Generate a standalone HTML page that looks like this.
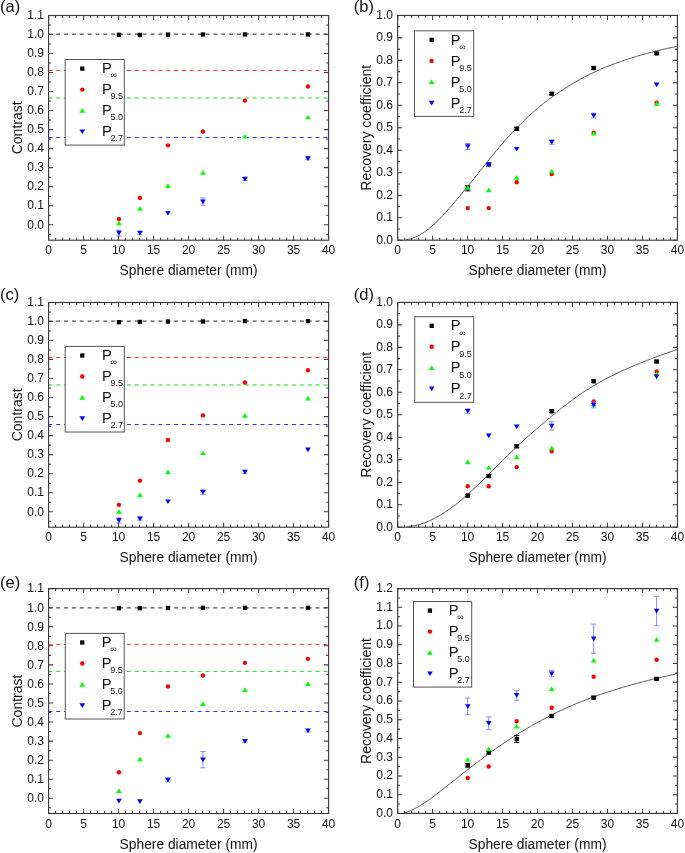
<!DOCTYPE html>
<html><head><meta charset="utf-8"><style>html,body{margin:0;padding:0;background:#fff;overflow:hidden}svg{display:block;will-change:transform}text{font-family:"Liberation Sans", sans-serif;fill:#111}</style></head>
<body><svg width="685" height="853" viewBox="0 0 685 853">
<rect width="685" height="853" fill="#fff"/>
<clipPath id="ca"><rect x="48.6" y="15.5" width="280.00" height="224.70"/></clipPath>
<line x1="48.6" y1="34.20" x2="328.6" y2="34.20" stroke="#505050" stroke-width="1.3" stroke-dasharray="4 3.86" stroke-dashoffset="0.30"/>
<line x1="48.6" y1="70.45" x2="328.6" y2="70.45" stroke="#ff3333" stroke-width="1.1" stroke-dasharray="4 3.86" stroke-dashoffset="0.30"/>
<line x1="48.6" y1="98.00" x2="328.6" y2="98.00" stroke="#55ee55" stroke-width="1.7" stroke-dasharray="4 3.86" stroke-dashoffset="0.30"/>
<line x1="48.6" y1="137.50" x2="328.6" y2="137.50" stroke="#3333ff" stroke-width="1.1" stroke-dasharray="4 3.86" stroke-dashoffset="0.30"/>
<rect x="116.80" y="32.65" width="4.3" height="4.3" fill="#000"/>
<rect x="137.80" y="32.75" width="4.3" height="4.3" fill="#000"/>
<rect x="165.80" y="32.45" width="4.3" height="4.3" fill="#000"/>
<rect x="200.80" y="32.35" width="4.3" height="4.3" fill="#000"/>
<rect x="242.80" y="32.25" width="4.3" height="4.3" fill="#000"/>
<rect x="305.80" y="32.25" width="4.3" height="4.3" fill="#000"/>
<circle cx="118.95" cy="218.98" r="2.2" fill="#f00"/>
<circle cx="139.95" cy="198.05" r="2.2" fill="#f00"/>
<circle cx="167.95" cy="145.34" r="2.2" fill="#f00"/>
<circle cx="202.95" cy="131.44" r="2.2" fill="#f00"/>
<circle cx="244.95" cy="100.61" r="2.2" fill="#f00"/>
<circle cx="307.95" cy="86.53" r="2.2" fill="#f00"/>
<path d="M118.95,220.67L121.80,225.37L116.10,225.37Z" fill="#0f0"/>
<path d="M139.95,206.01L142.80,210.71L137.10,210.71Z" fill="#0f0"/>
<path d="M167.95,183.18L170.80,187.88L165.10,187.88Z" fill="#0f0"/>
<path d="M202.95,170.05L205.80,174.75L200.10,174.75Z" fill="#0f0"/>
<path d="M244.95,133.89L247.80,138.59L242.10,138.59Z" fill="#0f0"/>
<path d="M307.95,114.67L310.80,119.37L305.10,119.37Z" fill="#0f0"/>
<path d="M118.95,230.06V236.06M116.35,230.06h5.2M116.35,236.06h5.2" stroke="#7c7cff" stroke-width="0.9" fill="none"/>
<path d="M118.95,235.56L121.80,230.86L116.10,230.86Z" fill="#00f"/>
<path d="M139.95,231.76V234.36M137.35,231.76h5.2M137.35,234.36h5.2" stroke="#7c7cff" stroke-width="0.9" fill="none"/>
<path d="M139.95,235.56L142.80,230.86L137.10,230.86Z" fill="#00f"/>
<path d="M167.95,215.58L170.80,210.88L165.10,210.88Z" fill="#00f"/>
<path d="M202.95,198.06V205.26M200.35,198.06h5.2M200.35,205.26h5.2" stroke="#7c7cff" stroke-width="0.9" fill="none"/>
<path d="M202.95,204.16L205.80,199.46L200.10,199.46Z" fill="#00f"/>
<path d="M244.95,177.52V180.52M242.35,177.52h5.2M242.35,180.52h5.2" stroke="#7c7cff" stroke-width="0.9" fill="none"/>
<path d="M244.95,181.52L247.80,176.82L242.10,176.82Z" fill="#00f"/>
<path d="M307.95,157.17V159.77M305.35,157.17h5.2M305.35,159.77h5.2" stroke="#7c7cff" stroke-width="0.9" fill="none"/>
<path d="M307.95,160.97L310.80,156.27L305.10,156.27Z" fill="#00f"/>
<rect x="48.6" y="15.5" width="280.00" height="224.70" fill="none" stroke="#3c3c3c" stroke-width="1.15"/>
<path d="M48.60,240.2v-4.5M48.60,15.5v4.5M55.60,240.2v-2.4M55.60,15.5v2.4M62.60,240.2v-2.4M62.60,15.5v2.4M69.60,240.2v-2.4M69.60,15.5v2.4M76.60,240.2v-2.4M76.60,15.5v2.4M83.60,240.2v-4.5M83.60,15.5v4.5M90.60,240.2v-2.4M90.60,15.5v2.4M97.60,240.2v-2.4M97.60,15.5v2.4M104.60,240.2v-2.4M104.60,15.5v2.4M111.60,240.2v-2.4M111.60,15.5v2.4M118.60,240.2v-4.5M118.60,15.5v4.5M125.60,240.2v-2.4M125.60,15.5v2.4M132.60,240.2v-2.4M132.60,15.5v2.4M139.60,240.2v-2.4M139.60,15.5v2.4M146.60,240.2v-2.4M146.60,15.5v2.4M153.60,240.2v-4.5M153.60,15.5v4.5M160.60,240.2v-2.4M160.60,15.5v2.4M167.60,240.2v-2.4M167.60,15.5v2.4M174.60,240.2v-2.4M174.60,15.5v2.4M181.60,240.2v-2.4M181.60,15.5v2.4M188.60,240.2v-4.5M188.60,15.5v4.5M195.60,240.2v-2.4M195.60,15.5v2.4M202.60,240.2v-2.4M202.60,15.5v2.4M209.60,240.2v-2.4M209.60,15.5v2.4M216.60,240.2v-2.4M216.60,15.5v2.4M223.60,240.2v-4.5M223.60,15.5v4.5M230.60,240.2v-2.4M230.60,15.5v2.4M237.60,240.2v-2.4M237.60,15.5v2.4M244.60,240.2v-2.4M244.60,15.5v2.4M251.60,240.2v-2.4M251.60,15.5v2.4M258.60,240.2v-4.5M258.60,15.5v4.5M265.60,240.2v-2.4M265.60,15.5v2.4M272.60,240.2v-2.4M272.60,15.5v2.4M279.60,240.2v-2.4M279.60,15.5v2.4M286.60,240.2v-2.4M286.60,15.5v2.4M293.60,240.2v-4.5M293.60,15.5v4.5M300.60,240.2v-2.4M300.60,15.5v2.4M307.60,240.2v-2.4M307.60,15.5v2.4M314.60,240.2v-2.4M314.60,15.5v2.4M321.60,240.2v-2.4M321.60,15.5v2.4M328.60,240.2v-4.5M328.60,15.5v4.5M48.6,234.21h2.4M328.6,234.21h-2.4M48.6,224.70h4.5M328.6,224.70h-4.5M48.6,215.19h2.4M328.6,215.19h-2.4M48.6,205.68h4.5M328.6,205.68h-4.5M48.6,196.17h2.4M328.6,196.17h-2.4M48.6,186.66h4.5M328.6,186.66h-4.5M48.6,177.15h2.4M328.6,177.15h-2.4M48.6,167.64h4.5M328.6,167.64h-4.5M48.6,158.13h2.4M328.6,158.13h-2.4M48.6,148.62h4.5M328.6,148.62h-4.5M48.6,139.11h2.4M328.6,139.11h-2.4M48.6,129.60h4.5M328.6,129.60h-4.5M48.6,120.09h2.4M328.6,120.09h-2.4M48.6,110.58h4.5M328.6,110.58h-4.5M48.6,101.07h2.4M328.6,101.07h-2.4M48.6,91.56h4.5M328.6,91.56h-4.5M48.6,82.05h2.4M328.6,82.05h-2.4M48.6,72.54h4.5M328.6,72.54h-4.5M48.6,63.03h2.4M328.6,63.03h-2.4M48.6,53.52h4.5M328.6,53.52h-4.5M48.6,44.01h2.4M328.6,44.01h-2.4M48.6,34.50h4.5M328.6,34.50h-4.5M48.6,24.99h2.4M328.6,24.99h-2.4M48.6,15.48h4.5M328.6,15.48h-4.5" stroke="#3c3c3c" stroke-width="1.05" fill="none"/>
<text x="48.60" y="253.90" text-anchor="middle" font-size="12">0</text>
<text x="83.60" y="253.90" text-anchor="middle" font-size="12">5</text>
<text x="118.60" y="253.90" text-anchor="middle" font-size="12">10</text>
<text x="153.60" y="253.90" text-anchor="middle" font-size="12">15</text>
<text x="188.60" y="253.90" text-anchor="middle" font-size="12">20</text>
<text x="223.60" y="253.90" text-anchor="middle" font-size="12">25</text>
<text x="258.60" y="253.90" text-anchor="middle" font-size="12">30</text>
<text x="293.60" y="253.90" text-anchor="middle" font-size="12">35</text>
<text x="328.60" y="253.90" text-anchor="middle" font-size="12">40</text>
<text x="44.00" y="228.50" text-anchor="end" font-size="12">0.0</text>
<text x="44.00" y="209.48" text-anchor="end" font-size="12">0.1</text>
<text x="44.00" y="190.46" text-anchor="end" font-size="12">0.2</text>
<text x="44.00" y="171.44" text-anchor="end" font-size="12">0.3</text>
<text x="44.00" y="152.42" text-anchor="end" font-size="12">0.4</text>
<text x="44.00" y="133.40" text-anchor="end" font-size="12">0.5</text>
<text x="44.00" y="114.38" text-anchor="end" font-size="12">0.6</text>
<text x="44.00" y="95.36" text-anchor="end" font-size="12">0.7</text>
<text x="44.00" y="76.34" text-anchor="end" font-size="12">0.8</text>
<text x="44.00" y="57.32" text-anchor="end" font-size="12">0.9</text>
<text x="44.00" y="38.30" text-anchor="end" font-size="12">1.0</text>
<text x="44.00" y="19.28" text-anchor="end" font-size="12">1.1</text>
<text x="188.60" y="274.90" text-anchor="middle" font-size="13.8">Sphere diameter (mm)</text>
<text transform="translate(22.20,127.85) rotate(-90)" text-anchor="middle" font-size="14">Contrast</text>
<text x="0.00" y="12.35" font-size="16.5">(a)</text>
<rect x="65.2" y="59.5" width="59.1" height="85.6" fill="#fff" stroke="#555" stroke-width="1"/>
<rect x="80.15" y="66.45" width="4.3" height="4.3" fill="#000"/>
<text x="101.95" y="73.20" font-size="14.7">P</text>
<text x="110.40" y="78.30" font-size="9" fill="#777">&#8734;</text>
<circle cx="82.30" cy="89.60" r="2.2" fill="#f00"/>
<text x="101.95" y="94.20" font-size="14.7">P</text>
<text x="110.40" y="99.30" font-size="9">9.5</text>
<path d="M82.30,108.10L85.15,112.80L79.45,112.80Z" fill="#0f0"/>
<text x="101.95" y="115.20" font-size="14.7">P</text>
<text x="110.40" y="120.30" font-size="9">5.0</text>
<path d="M82.30,134.10L85.15,129.40L79.45,129.40Z" fill="#00f"/>
<text x="101.95" y="136.20" font-size="14.7">P</text>
<text x="110.40" y="141.30" font-size="9">2.7</text>
<clipPath id="cc"><rect x="48.6" y="302.5" width="280.00" height="224.70"/></clipPath>
<line x1="48.6" y1="321.20" x2="328.6" y2="321.20" stroke="#505050" stroke-width="1.3" stroke-dasharray="4 3.86" stroke-dashoffset="0.30"/>
<line x1="48.6" y1="357.45" x2="328.6" y2="357.45" stroke="#ff3333" stroke-width="1.1" stroke-dasharray="4 3.86" stroke-dashoffset="0.30"/>
<line x1="48.6" y1="385.00" x2="328.6" y2="385.00" stroke="#55ee55" stroke-width="1.7" stroke-dasharray="4 3.86" stroke-dashoffset="0.30"/>
<line x1="48.6" y1="424.50" x2="328.6" y2="424.50" stroke="#3333ff" stroke-width="1.1" stroke-dasharray="4 3.86" stroke-dashoffset="0.30"/>
<rect x="116.80" y="320.05" width="4.3" height="4.3" fill="#000"/>
<rect x="137.80" y="319.75" width="4.3" height="4.3" fill="#000"/>
<rect x="165.80" y="319.35" width="4.3" height="4.3" fill="#000"/>
<rect x="200.80" y="319.35" width="4.3" height="4.3" fill="#000"/>
<rect x="242.80" y="318.95" width="4.3" height="4.3" fill="#000"/>
<rect x="305.80" y="318.95" width="4.3" height="4.3" fill="#000"/>
<circle cx="118.95" cy="504.84" r="2.2" fill="#f00"/>
<circle cx="139.95" cy="480.67" r="2.2" fill="#f00"/>
<circle cx="167.95" cy="439.95" r="2.2" fill="#f00"/>
<circle cx="202.95" cy="415.40" r="2.2" fill="#f00"/>
<circle cx="244.95" cy="382.48" r="2.2" fill="#f00"/>
<circle cx="307.95" cy="370.30" r="2.2" fill="#f00"/>
<path d="M118.95,509.00L121.80,513.70L116.10,513.70Z" fill="#0f0"/>
<path d="M139.95,492.44L142.80,497.14L137.10,497.14Z" fill="#0f0"/>
<path d="M167.95,469.61L170.80,474.31L165.10,474.31Z" fill="#0f0"/>
<path d="M202.95,450.39L205.80,455.09L200.10,455.09Z" fill="#0f0"/>
<path d="M244.95,413.09L247.80,417.79L242.10,417.79Z" fill="#0f0"/>
<path d="M307.95,395.77L310.80,400.47L305.10,400.47Z" fill="#0f0"/>
<path d="M118.95,517.84V523.04M116.35,517.84h5.2M116.35,523.04h5.2" stroke="#7c7cff" stroke-width="0.9" fill="none"/>
<path d="M118.95,522.94L121.80,518.24L116.10,518.24Z" fill="#00f"/>
<path d="M139.95,517.33V520.13M137.35,517.33h5.2M137.35,520.13h5.2" stroke="#7c7cff" stroke-width="0.9" fill="none"/>
<path d="M139.95,521.23L142.80,516.53L137.10,516.53Z" fill="#00f"/>
<path d="M167.95,504.10L170.80,499.40L165.10,499.40Z" fill="#00f"/>
<path d="M202.95,489.79V494.39M200.35,489.79h5.2M200.35,494.39h5.2" stroke="#7c7cff" stroke-width="0.9" fill="none"/>
<path d="M202.95,494.59L205.80,489.89L200.10,489.89Z" fill="#00f"/>
<path d="M244.95,470.32V473.52M242.35,470.32h5.2M242.35,473.52h5.2" stroke="#7c7cff" stroke-width="0.9" fill="none"/>
<path d="M244.95,474.42L247.80,469.72L242.10,469.72Z" fill="#00f"/>
<path d="M307.95,452.15L310.80,447.45L305.10,447.45Z" fill="#00f"/>
<rect x="48.6" y="302.5" width="280.00" height="224.70" fill="none" stroke="#3c3c3c" stroke-width="1.15"/>
<path d="M48.60,527.2v-4.5M48.60,302.5v4.5M55.60,527.2v-2.4M55.60,302.5v2.4M62.60,527.2v-2.4M62.60,302.5v2.4M69.60,527.2v-2.4M69.60,302.5v2.4M76.60,527.2v-2.4M76.60,302.5v2.4M83.60,527.2v-4.5M83.60,302.5v4.5M90.60,527.2v-2.4M90.60,302.5v2.4M97.60,527.2v-2.4M97.60,302.5v2.4M104.60,527.2v-2.4M104.60,302.5v2.4M111.60,527.2v-2.4M111.60,302.5v2.4M118.60,527.2v-4.5M118.60,302.5v4.5M125.60,527.2v-2.4M125.60,302.5v2.4M132.60,527.2v-2.4M132.60,302.5v2.4M139.60,527.2v-2.4M139.60,302.5v2.4M146.60,527.2v-2.4M146.60,302.5v2.4M153.60,527.2v-4.5M153.60,302.5v4.5M160.60,527.2v-2.4M160.60,302.5v2.4M167.60,527.2v-2.4M167.60,302.5v2.4M174.60,527.2v-2.4M174.60,302.5v2.4M181.60,527.2v-2.4M181.60,302.5v2.4M188.60,527.2v-4.5M188.60,302.5v4.5M195.60,527.2v-2.4M195.60,302.5v2.4M202.60,527.2v-2.4M202.60,302.5v2.4M209.60,527.2v-2.4M209.60,302.5v2.4M216.60,527.2v-2.4M216.60,302.5v2.4M223.60,527.2v-4.5M223.60,302.5v4.5M230.60,527.2v-2.4M230.60,302.5v2.4M237.60,527.2v-2.4M237.60,302.5v2.4M244.60,527.2v-2.4M244.60,302.5v2.4M251.60,527.2v-2.4M251.60,302.5v2.4M258.60,527.2v-4.5M258.60,302.5v4.5M265.60,527.2v-2.4M265.60,302.5v2.4M272.60,527.2v-2.4M272.60,302.5v2.4M279.60,527.2v-2.4M279.60,302.5v2.4M286.60,527.2v-2.4M286.60,302.5v2.4M293.60,527.2v-4.5M293.60,302.5v4.5M300.60,527.2v-2.4M300.60,302.5v2.4M307.60,527.2v-2.4M307.60,302.5v2.4M314.60,527.2v-2.4M314.60,302.5v2.4M321.60,527.2v-2.4M321.60,302.5v2.4M328.60,527.2v-4.5M328.60,302.5v4.5M48.6,521.21h2.4M328.6,521.21h-2.4M48.6,511.70h4.5M328.6,511.70h-4.5M48.6,502.19h2.4M328.6,502.19h-2.4M48.6,492.68h4.5M328.6,492.68h-4.5M48.6,483.17h2.4M328.6,483.17h-2.4M48.6,473.66h4.5M328.6,473.66h-4.5M48.6,464.15h2.4M328.6,464.15h-2.4M48.6,454.64h4.5M328.6,454.64h-4.5M48.6,445.13h2.4M328.6,445.13h-2.4M48.6,435.62h4.5M328.6,435.62h-4.5M48.6,426.11h2.4M328.6,426.11h-2.4M48.6,416.60h4.5M328.6,416.60h-4.5M48.6,407.09h2.4M328.6,407.09h-2.4M48.6,397.58h4.5M328.6,397.58h-4.5M48.6,388.07h2.4M328.6,388.07h-2.4M48.6,378.56h4.5M328.6,378.56h-4.5M48.6,369.05h2.4M328.6,369.05h-2.4M48.6,359.54h4.5M328.6,359.54h-4.5M48.6,350.03h2.4M328.6,350.03h-2.4M48.6,340.52h4.5M328.6,340.52h-4.5M48.6,331.01h2.4M328.6,331.01h-2.4M48.6,321.50h4.5M328.6,321.50h-4.5M48.6,311.99h2.4M328.6,311.99h-2.4M48.6,302.48h4.5M328.6,302.48h-4.5" stroke="#3c3c3c" stroke-width="1.05" fill="none"/>
<text x="48.60" y="540.90" text-anchor="middle" font-size="12">0</text>
<text x="83.60" y="540.90" text-anchor="middle" font-size="12">5</text>
<text x="118.60" y="540.90" text-anchor="middle" font-size="12">10</text>
<text x="153.60" y="540.90" text-anchor="middle" font-size="12">15</text>
<text x="188.60" y="540.90" text-anchor="middle" font-size="12">20</text>
<text x="223.60" y="540.90" text-anchor="middle" font-size="12">25</text>
<text x="258.60" y="540.90" text-anchor="middle" font-size="12">30</text>
<text x="293.60" y="540.90" text-anchor="middle" font-size="12">35</text>
<text x="328.60" y="540.90" text-anchor="middle" font-size="12">40</text>
<text x="44.00" y="515.50" text-anchor="end" font-size="12">0.0</text>
<text x="44.00" y="496.48" text-anchor="end" font-size="12">0.1</text>
<text x="44.00" y="477.46" text-anchor="end" font-size="12">0.2</text>
<text x="44.00" y="458.44" text-anchor="end" font-size="12">0.3</text>
<text x="44.00" y="439.42" text-anchor="end" font-size="12">0.4</text>
<text x="44.00" y="420.40" text-anchor="end" font-size="12">0.5</text>
<text x="44.00" y="401.38" text-anchor="end" font-size="12">0.6</text>
<text x="44.00" y="382.36" text-anchor="end" font-size="12">0.7</text>
<text x="44.00" y="363.34" text-anchor="end" font-size="12">0.8</text>
<text x="44.00" y="344.32" text-anchor="end" font-size="12">0.9</text>
<text x="44.00" y="325.30" text-anchor="end" font-size="12">1.0</text>
<text x="44.00" y="306.28" text-anchor="end" font-size="12">1.1</text>
<text x="188.60" y="561.90" text-anchor="middle" font-size="13.8">Sphere diameter (mm)</text>
<text transform="translate(22.20,414.85) rotate(-90)" text-anchor="middle" font-size="14">Contrast</text>
<text x="0.00" y="300.00" font-size="16.5">(c)</text>
<rect x="65.2" y="346.4" width="59.1" height="85.6" fill="#fff" stroke="#555" stroke-width="1"/>
<rect x="80.15" y="353.35" width="4.3" height="4.3" fill="#000"/>
<text x="101.95" y="360.10" font-size="14.7">P</text>
<text x="110.40" y="365.20" font-size="9" fill="#777">&#8734;</text>
<circle cx="82.30" cy="376.50" r="2.2" fill="#f00"/>
<text x="101.95" y="381.10" font-size="14.7">P</text>
<text x="110.40" y="386.20" font-size="9">9.5</text>
<path d="M82.30,395.00L85.15,399.70L79.45,399.70Z" fill="#0f0"/>
<text x="101.95" y="402.10" font-size="14.7">P</text>
<text x="110.40" y="407.20" font-size="9">5.0</text>
<path d="M82.30,421.00L85.15,416.30L79.45,416.30Z" fill="#00f"/>
<text x="101.95" y="423.10" font-size="14.7">P</text>
<text x="110.40" y="428.20" font-size="9">2.7</text>
<clipPath id="ce"><rect x="48.6" y="588.6" width="280.00" height="224.90"/></clipPath>
<line x1="48.6" y1="607.80" x2="328.6" y2="607.80" stroke="#505050" stroke-width="1.3" stroke-dasharray="4 3.86" stroke-dashoffset="0.30"/>
<line x1="48.6" y1="644.40" x2="328.6" y2="644.40" stroke="#ff3333" stroke-width="1.0" stroke-dasharray="4 3.86" stroke-dashoffset="0.30"/>
<line x1="48.6" y1="671.40" x2="328.6" y2="671.40" stroke="#22dd22" stroke-width="1.0" stroke-dasharray="4 3.86" stroke-dashoffset="0.30"/>
<line x1="48.6" y1="711.50" x2="328.6" y2="711.50" stroke="#3333ff" stroke-width="1.0" stroke-dasharray="4 3.86" stroke-dashoffset="0.30"/>
<rect x="116.80" y="606.05" width="4.3" height="4.3" fill="#000"/>
<rect x="137.80" y="606.05" width="4.3" height="4.3" fill="#000"/>
<rect x="165.80" y="605.85" width="4.3" height="4.3" fill="#000"/>
<rect x="200.80" y="605.65" width="4.3" height="4.3" fill="#000"/>
<rect x="242.80" y="605.65" width="4.3" height="4.3" fill="#000"/>
<rect x="305.80" y="605.65" width="4.3" height="4.3" fill="#000"/>
<circle cx="118.95" cy="772.26" r="2.2" fill="#f00"/>
<circle cx="139.95" cy="733.12" r="2.2" fill="#f00"/>
<circle cx="167.95" cy="686.54" r="2.2" fill="#f00"/>
<circle cx="202.95" cy="675.47" r="2.2" fill="#f00"/>
<circle cx="244.95" cy="662.87" r="2.2" fill="#f00"/>
<circle cx="307.95" cy="658.86" r="2.2" fill="#f00"/>
<path d="M118.95,788.27L121.80,792.97L116.10,792.97Z" fill="#0f0"/>
<path d="M139.95,756.58L142.80,761.28L137.10,761.28Z" fill="#0f0"/>
<path d="M167.95,733.10L170.80,737.80L165.10,737.80Z" fill="#0f0"/>
<path d="M202.95,701.22L205.80,705.92L200.10,705.92Z" fill="#0f0"/>
<path d="M244.95,687.29L247.80,691.99L242.10,691.99Z" fill="#0f0"/>
<path d="M307.95,681.37L310.80,686.07L305.10,686.07Z" fill="#0f0"/>
<path d="M118.95,803.39L121.80,798.69L116.10,798.69Z" fill="#00f"/>
<path d="M139.95,803.96L142.80,799.26L137.10,799.26Z" fill="#00f"/>
<path d="M167.95,777.89V781.89M165.35,777.89h5.2M165.35,781.89h5.2" stroke="#7c7cff" stroke-width="0.9" fill="none"/>
<path d="M167.95,782.39L170.80,777.69L165.10,777.69Z" fill="#00f"/>
<path d="M202.95,751.56V767.76M200.35,751.56h5.2M200.35,767.76h5.2" stroke="#7c7cff" stroke-width="0.9" fill="none"/>
<path d="M202.95,762.16L205.80,757.46L200.10,757.46Z" fill="#00f"/>
<path d="M244.95,739.84V742.44M242.35,739.84h5.2M242.35,742.44h5.2" stroke="#7c7cff" stroke-width="0.9" fill="none"/>
<path d="M244.95,743.64L247.80,738.94L242.10,738.94Z" fill="#00f"/>
<path d="M307.95,729.34V731.94M305.35,729.34h5.2M305.35,731.94h5.2" stroke="#7c7cff" stroke-width="0.9" fill="none"/>
<path d="M307.95,733.14L310.80,728.44L305.10,728.44Z" fill="#00f"/>
<rect x="48.6" y="588.6" width="280.00" height="224.90" fill="none" stroke="#3c3c3c" stroke-width="1.15"/>
<path d="M48.60,813.5v-4.5M48.60,588.6v4.5M55.60,813.5v-2.4M55.60,588.6v2.4M62.60,813.5v-2.4M62.60,588.6v2.4M69.60,813.5v-2.4M69.60,588.6v2.4M76.60,813.5v-2.4M76.60,588.6v2.4M83.60,813.5v-4.5M83.60,588.6v4.5M90.60,813.5v-2.4M90.60,588.6v2.4M97.60,813.5v-2.4M97.60,588.6v2.4M104.60,813.5v-2.4M104.60,588.6v2.4M111.60,813.5v-2.4M111.60,588.6v2.4M118.60,813.5v-4.5M118.60,588.6v4.5M125.60,813.5v-2.4M125.60,588.6v2.4M132.60,813.5v-2.4M132.60,588.6v2.4M139.60,813.5v-2.4M139.60,588.6v2.4M146.60,813.5v-2.4M146.60,588.6v2.4M153.60,813.5v-4.5M153.60,588.6v4.5M160.60,813.5v-2.4M160.60,588.6v2.4M167.60,813.5v-2.4M167.60,588.6v2.4M174.60,813.5v-2.4M174.60,588.6v2.4M181.60,813.5v-2.4M181.60,588.6v2.4M188.60,813.5v-4.5M188.60,588.6v4.5M195.60,813.5v-2.4M195.60,588.6v2.4M202.60,813.5v-2.4M202.60,588.6v2.4M209.60,813.5v-2.4M209.60,588.6v2.4M216.60,813.5v-2.4M216.60,588.6v2.4M223.60,813.5v-4.5M223.60,588.6v4.5M230.60,813.5v-2.4M230.60,588.6v2.4M237.60,813.5v-2.4M237.60,588.6v2.4M244.60,813.5v-2.4M244.60,588.6v2.4M251.60,813.5v-2.4M251.60,588.6v2.4M258.60,813.5v-4.5M258.60,588.6v4.5M265.60,813.5v-2.4M265.60,588.6v2.4M272.60,813.5v-2.4M272.60,588.6v2.4M279.60,813.5v-2.4M279.60,588.6v2.4M286.60,813.5v-2.4M286.60,588.6v2.4M293.60,813.5v-4.5M293.60,588.6v4.5M300.60,813.5v-2.4M300.60,588.6v2.4M307.60,813.5v-2.4M307.60,588.6v2.4M314.60,813.5v-2.4M314.60,588.6v2.4M321.60,813.5v-2.4M321.60,588.6v2.4M328.60,813.5v-4.5M328.60,588.6v4.5M48.6,807.83h2.4M328.6,807.83h-2.4M48.6,798.30h4.5M328.6,798.30h-4.5M48.6,788.77h2.4M328.6,788.77h-2.4M48.6,779.24h4.5M328.6,779.24h-4.5M48.6,769.71h2.4M328.6,769.71h-2.4M48.6,760.18h4.5M328.6,760.18h-4.5M48.6,750.65h2.4M328.6,750.65h-2.4M48.6,741.12h4.5M328.6,741.12h-4.5M48.6,731.59h2.4M328.6,731.59h-2.4M48.6,722.06h4.5M328.6,722.06h-4.5M48.6,712.53h2.4M328.6,712.53h-2.4M48.6,703.00h4.5M328.6,703.00h-4.5M48.6,693.47h2.4M328.6,693.47h-2.4M48.6,683.94h4.5M328.6,683.94h-4.5M48.6,674.41h2.4M328.6,674.41h-2.4M48.6,664.88h4.5M328.6,664.88h-4.5M48.6,655.35h2.4M328.6,655.35h-2.4M48.6,645.82h4.5M328.6,645.82h-4.5M48.6,636.29h2.4M328.6,636.29h-2.4M48.6,626.76h4.5M328.6,626.76h-4.5M48.6,617.23h2.4M328.6,617.23h-2.4M48.6,607.70h4.5M328.6,607.70h-4.5M48.6,598.17h2.4M328.6,598.17h-2.4M48.6,588.64h4.5M328.6,588.64h-4.5" stroke="#3c3c3c" stroke-width="1.05" fill="none"/>
<text x="48.60" y="828.00" text-anchor="middle" font-size="12">0</text>
<text x="83.60" y="828.00" text-anchor="middle" font-size="12">5</text>
<text x="118.60" y="828.00" text-anchor="middle" font-size="12">10</text>
<text x="153.60" y="828.00" text-anchor="middle" font-size="12">15</text>
<text x="188.60" y="828.00" text-anchor="middle" font-size="12">20</text>
<text x="223.60" y="828.00" text-anchor="middle" font-size="12">25</text>
<text x="258.60" y="828.00" text-anchor="middle" font-size="12">30</text>
<text x="293.60" y="828.00" text-anchor="middle" font-size="12">35</text>
<text x="328.60" y="828.00" text-anchor="middle" font-size="12">40</text>
<text x="44.00" y="802.10" text-anchor="end" font-size="12">0.0</text>
<text x="44.00" y="783.04" text-anchor="end" font-size="12">0.1</text>
<text x="44.00" y="763.98" text-anchor="end" font-size="12">0.2</text>
<text x="44.00" y="744.92" text-anchor="end" font-size="12">0.3</text>
<text x="44.00" y="725.86" text-anchor="end" font-size="12">0.4</text>
<text x="44.00" y="706.80" text-anchor="end" font-size="12">0.5</text>
<text x="44.00" y="687.74" text-anchor="end" font-size="12">0.6</text>
<text x="44.00" y="668.68" text-anchor="end" font-size="12">0.7</text>
<text x="44.00" y="649.62" text-anchor="end" font-size="12">0.8</text>
<text x="44.00" y="630.56" text-anchor="end" font-size="12">0.9</text>
<text x="44.00" y="611.50" text-anchor="end" font-size="12">1.0</text>
<text x="44.00" y="592.44" text-anchor="end" font-size="12">1.1</text>
<text x="188.60" y="848.60" text-anchor="middle" font-size="13.8">Sphere diameter (mm)</text>
<text transform="translate(22.20,701.05) rotate(-90)" text-anchor="middle" font-size="14">Contrast</text>
<text x="0.00" y="588.10" font-size="16.5">(e)</text>
<rect x="65.3" y="633.4" width="58.9" height="85.6" fill="#fff" stroke="#555" stroke-width="1"/>
<rect x="80.15" y="640.35" width="4.3" height="4.3" fill="#000"/>
<text x="101.70" y="647.10" font-size="14.7">P</text>
<text x="110.15" y="652.20" font-size="9" fill="#777">&#8734;</text>
<circle cx="82.30" cy="663.50" r="2.2" fill="#f00"/>
<text x="101.70" y="668.10" font-size="14.7">P</text>
<text x="110.15" y="673.20" font-size="9">9.5</text>
<path d="M82.30,682.00L85.15,686.70L79.45,686.70Z" fill="#0f0"/>
<text x="101.70" y="689.10" font-size="14.7">P</text>
<text x="110.15" y="694.20" font-size="9">5.0</text>
<path d="M82.30,708.00L85.15,703.30L79.45,703.30Z" fill="#00f"/>
<text x="101.70" y="710.10" font-size="14.7">P</text>
<text x="110.15" y="715.20" font-size="9">2.7</text>
<clipPath id="cb"><rect x="397.65" y="15.4" width="279.80" height="224.80"/></clipPath>
<path d="M405.80,239.85 L407.04,239.66 L408.28,239.41 L409.52,239.11 L410.76,238.76 L412.00,238.37 L413.24,237.92 L414.48,237.43 L415.72,236.90 L416.96,236.32 L418.20,235.69 L419.44,235.02 L420.68,234.31 L421.93,233.56 L423.17,232.77 L424.41,231.94 L425.65,231.07 L426.89,230.16 L428.13,229.22 L429.37,228.24 L430.61,227.22 L431.85,226.17 L433.09,225.09 L434.33,223.97 L435.57,222.83 L436.81,221.65 L438.05,220.44 L439.29,219.20 L440.53,217.94 L441.77,216.65 L443.01,215.33 L444.25,213.99 L445.49,212.63 L446.73,211.25 L447.97,209.85 L449.21,208.43 L450.45,207.00 L451.70,205.55 L452.94,204.09 L454.18,202.62 L455.42,201.14 L456.66,199.65 L457.90,198.16 L459.14,196.66 L460.38,195.15 L461.62,193.65 L462.86,192.14 L464.10,190.63 L465.34,189.13 L466.58,187.63 L467.82,186.12 L469.06,184.62 L470.30,183.11 L471.54,181.59 L472.78,180.07 L474.02,178.54 L475.26,177.00 L476.50,175.45 L477.74,173.89 L478.98,172.32 L480.22,170.74 L481.47,169.16 L482.71,167.58 L483.95,165.99 L485.19,164.42 L486.43,162.85 L487.67,161.28 L488.91,159.73 L490.15,158.19 L491.39,156.67 L492.63,155.15 L493.87,153.64 L495.11,152.15 L496.35,150.67 L497.59,149.19 L498.83,147.73 L500.07,146.29 L501.31,144.85 L502.55,143.42 L503.79,142.01 L505.03,140.61 L506.27,139.22 L507.51,137.84 L508.75,136.47 L509.99,135.12 L511.23,133.77 L512.48,132.44 L513.72,131.12 L514.96,129.82 L516.20,128.52 L517.44,127.24 L518.68,125.98 L519.92,124.72 L521.16,123.48 L522.40,122.25 L523.64,121.03 L524.88,119.83 L526.12,118.64 L527.36,117.47 L528.60,116.31 L529.84,115.16 L531.08,114.02 L532.32,112.90 L533.56,111.80 L534.80,110.71 L536.04,109.63 L537.28,108.57 L538.52,107.52 L539.76,106.49 L541.00,105.47 L542.25,104.46 L543.49,103.48 L544.73,102.50 L545.97,101.54 L547.21,100.60 L548.45,99.67 L549.69,98.76 L550.93,97.86 L552.17,96.97 L553.41,96.09 L554.65,95.23 L555.89,94.37 L557.13,93.53 L558.37,92.70 L559.61,91.87 L560.85,91.05 L562.09,90.25 L563.33,89.44 L564.57,88.65 L565.81,87.86 L567.05,87.08 L568.29,86.30 L569.53,85.54 L570.77,84.78 L572.02,84.03 L573.26,83.29 L574.50,82.55 L575.74,81.83 L576.98,81.11 L578.22,80.41 L579.46,79.71 L580.70,79.02 L581.94,78.35 L583.18,77.68 L584.42,77.03 L585.66,76.38 L586.90,75.74 L588.14,75.11 L589.38,74.50 L590.62,73.89 L591.86,73.29 L593.10,72.70 L594.34,72.11 L595.58,71.54 L596.82,70.97 L598.06,70.42 L599.30,69.87 L600.54,69.33 L601.78,68.79 L603.03,68.27 L604.27,67.75 L605.51,67.24 L606.75,66.73 L607.99,66.23 L609.23,65.74 L610.47,65.26 L611.71,64.78 L612.95,64.31 L614.19,63.85 L615.43,63.39 L616.67,62.94 L617.91,62.49 L619.15,62.05 L620.39,61.62 L621.63,61.19 L622.87,60.77 L624.11,60.35 L625.35,59.93 L626.59,59.53 L627.83,59.12 L629.07,58.72 L630.31,58.33 L631.55,57.94 L632.80,57.55 L634.04,57.17 L635.28,56.79 L636.52,56.41 L637.76,56.04 L639.00,55.68 L640.24,55.32 L641.48,54.96 L642.72,54.61 L643.96,54.26 L645.20,53.91 L646.44,53.57 L647.68,53.24 L648.92,52.90 L650.16,52.58 L651.40,52.25 L652.64,51.93 L653.88,51.61 L655.12,51.30 L656.36,50.99 L657.60,50.69 L658.84,50.39 L660.08,50.09 L661.32,49.80 L662.57,49.51 L663.81,49.22 L665.05,48.94 L666.29,48.66 L667.53,48.39 L668.77,48.12 L670.01,47.85 L671.25,47.59 L672.49,47.33 L673.73,47.08 L674.97,46.83 L676.21,46.58 L677.45,46.33" fill="none" stroke="#505050" stroke-width="1" clip-path="url(#cb)"/>
<path d="M467.75,185.70V190.90M465.15,185.70h5.2M465.15,190.90h5.2" stroke="#000" stroke-width="0.9" fill="none"/>
<rect x="465.60" y="186.15" width="4.3" height="4.3" fill="#000"/>
<path d="M488.74,162.70V166.30M486.13,162.70h5.2M486.13,166.30h5.2" stroke="#000" stroke-width="0.9" fill="none"/>
<rect x="486.59" y="162.35" width="4.3" height="4.3" fill="#000"/>
<path d="M516.72,127.30V130.30M514.12,127.30h5.2M514.12,130.30h5.2" stroke="#000" stroke-width="0.9" fill="none"/>
<rect x="514.57" y="126.65" width="4.3" height="4.3" fill="#000"/>
<path d="M551.69,92.50V94.90M549.09,92.50h5.2M549.09,94.90h5.2" stroke="#000" stroke-width="0.9" fill="none"/>
<rect x="549.54" y="91.55" width="4.3" height="4.3" fill="#000"/>
<path d="M593.66,66.80V69.20M591.06,66.80h5.2M591.06,69.20h5.2" stroke="#000" stroke-width="0.9" fill="none"/>
<rect x="591.51" y="65.85" width="4.3" height="4.3" fill="#000"/>
<path d="M656.62,52.40V54.40M654.01,52.40h5.2M654.01,54.40h5.2" stroke="#000" stroke-width="0.9" fill="none"/>
<rect x="654.47" y="51.25" width="4.3" height="4.3" fill="#000"/>
<circle cx="467.75" cy="208.10" r="2.2" fill="#f00"/>
<circle cx="488.74" cy="208.10" r="2.2" fill="#f00"/>
<circle cx="516.72" cy="182.30" r="2.2" fill="#f00"/>
<circle cx="551.69" cy="174.10" r="2.2" fill="#f00"/>
<circle cx="593.66" cy="132.80" r="2.2" fill="#f00"/>
<circle cx="656.62" cy="102.80" r="2.2" fill="#f00"/>
<path d="M467.75,185.10L470.60,189.80L464.90,189.80Z" fill="#0f0"/>
<path d="M488.74,187.60L491.59,192.30L485.88,192.30Z" fill="#0f0"/>
<path d="M516.72,175.10L519.57,179.80L513.87,179.80Z" fill="#0f0"/>
<path d="M551.69,168.80L554.54,173.50L548.84,173.50Z" fill="#0f0"/>
<path d="M593.66,130.90L596.51,135.60L590.81,135.60Z" fill="#0f0"/>
<path d="M656.62,101.30L659.47,106.00L653.76,106.00Z" fill="#0f0"/>
<path d="M467.75,143.50V149.50M465.15,143.50h5.2M465.15,149.50h5.2" stroke="#7c7cff" stroke-width="0.9" fill="none"/>
<path d="M467.75,149.00L470.60,144.30L464.90,144.30Z" fill="#00f"/>
<path d="M488.74,162.60V166.60M486.13,162.60h5.2M486.13,166.60h5.2" stroke="#7c7cff" stroke-width="0.9" fill="none"/>
<path d="M488.74,167.10L491.59,162.40L485.88,162.40Z" fill="#00f"/>
<path d="M516.72,151.60L519.57,146.90L513.87,146.90Z" fill="#00f"/>
<path d="M551.69,139.90V144.30M549.09,139.90h5.2M549.09,144.30h5.2" stroke="#7c7cff" stroke-width="0.9" fill="none"/>
<path d="M551.69,144.60L554.54,139.90L548.84,139.90Z" fill="#00f"/>
<path d="M593.66,113.20V118.00M591.06,113.20h5.2M591.06,118.00h5.2" stroke="#7c7cff" stroke-width="0.9" fill="none"/>
<path d="M593.66,118.10L596.51,113.40L590.81,113.40Z" fill="#00f"/>
<path d="M656.62,87.30L659.47,82.60L653.76,82.60Z" fill="#00f"/>
<rect x="397.65" y="15.4" width="279.80" height="224.80" fill="none" stroke="#3c3c3c" stroke-width="1.15"/>
<path d="M397.65,240.2v-4.5M397.65,15.4v4.5M404.64,240.2v-2.4M404.64,15.4v2.4M411.64,240.2v-2.4M411.64,15.4v2.4M418.63,240.2v-2.4M418.63,15.4v2.4M425.63,240.2v-2.4M425.63,15.4v2.4M432.62,240.2v-4.5M432.62,15.4v4.5M439.62,240.2v-2.4M439.62,15.4v2.4M446.62,240.2v-2.4M446.62,15.4v2.4M453.61,240.2v-2.4M453.61,15.4v2.4M460.61,240.2v-2.4M460.61,15.4v2.4M467.60,240.2v-4.5M467.60,15.4v4.5M474.60,240.2v-2.4M474.60,15.4v2.4M481.59,240.2v-2.4M481.59,15.4v2.4M488.59,240.2v-2.4M488.59,15.4v2.4M495.58,240.2v-2.4M495.58,15.4v2.4M502.57,240.2v-4.5M502.57,15.4v4.5M509.57,240.2v-2.4M509.57,15.4v2.4M516.57,240.2v-2.4M516.57,15.4v2.4M523.56,240.2v-2.4M523.56,15.4v2.4M530.56,240.2v-2.4M530.56,15.4v2.4M537.55,240.2v-4.5M537.55,15.4v4.5M544.55,240.2v-2.4M544.55,15.4v2.4M551.54,240.2v-2.4M551.54,15.4v2.4M558.54,240.2v-2.4M558.54,15.4v2.4M565.53,240.2v-2.4M565.53,15.4v2.4M572.53,240.2v-4.5M572.53,15.4v4.5M579.52,240.2v-2.4M579.52,15.4v2.4M586.52,240.2v-2.4M586.52,15.4v2.4M593.51,240.2v-2.4M593.51,15.4v2.4M600.50,240.2v-2.4M600.50,15.4v2.4M607.50,240.2v-4.5M607.50,15.4v4.5M614.50,240.2v-2.4M614.50,15.4v2.4M621.49,240.2v-2.4M621.49,15.4v2.4M628.49,240.2v-2.4M628.49,15.4v2.4M635.48,240.2v-2.4M635.48,15.4v2.4M642.48,240.2v-4.5M642.48,15.4v4.5M649.47,240.2v-2.4M649.47,15.4v2.4M656.47,240.2v-2.4M656.47,15.4v2.4M663.46,240.2v-2.4M663.46,15.4v2.4M670.46,240.2v-2.4M670.46,15.4v2.4M677.45,240.2v-4.5M677.45,15.4v4.5M397.65,240.20h4.5M677.45,240.20h-4.5M397.65,228.96h2.4M677.45,228.96h-2.4M397.65,217.72h4.5M677.45,217.72h-4.5M397.65,206.48h2.4M677.45,206.48h-2.4M397.65,195.24h4.5M677.45,195.24h-4.5M397.65,184.00h2.4M677.45,184.00h-2.4M397.65,172.76h4.5M677.45,172.76h-4.5M397.65,161.52h2.4M677.45,161.52h-2.4M397.65,150.28h4.5M677.45,150.28h-4.5M397.65,139.04h2.4M677.45,139.04h-2.4M397.65,127.80h4.5M677.45,127.80h-4.5M397.65,116.56h2.4M677.45,116.56h-2.4M397.65,105.32h4.5M677.45,105.32h-4.5M397.65,94.08h2.4M677.45,94.08h-2.4M397.65,82.84h4.5M677.45,82.84h-4.5M397.65,71.60h2.4M677.45,71.60h-2.4M397.65,60.36h4.5M677.45,60.36h-4.5M397.65,49.12h2.4M677.45,49.12h-2.4M397.65,37.88h4.5M677.45,37.88h-4.5M397.65,26.64h2.4M677.45,26.64h-2.4M397.65,15.40h4.5M677.45,15.40h-4.5" stroke="#3c3c3c" stroke-width="1.05" fill="none"/>
<text x="397.65" y="253.90" text-anchor="middle" font-size="12">0</text>
<text x="432.62" y="253.90" text-anchor="middle" font-size="12">5</text>
<text x="467.60" y="253.90" text-anchor="middle" font-size="12">10</text>
<text x="502.57" y="253.90" text-anchor="middle" font-size="12">15</text>
<text x="537.55" y="253.90" text-anchor="middle" font-size="12">20</text>
<text x="572.53" y="253.90" text-anchor="middle" font-size="12">25</text>
<text x="607.50" y="253.90" text-anchor="middle" font-size="12">30</text>
<text x="642.48" y="253.90" text-anchor="middle" font-size="12">35</text>
<text x="677.45" y="253.90" text-anchor="middle" font-size="12">40</text>
<text x="393.05" y="243.50" text-anchor="end" font-size="12">0.0</text>
<text x="393.05" y="221.02" text-anchor="end" font-size="12">0.1</text>
<text x="393.05" y="198.54" text-anchor="end" font-size="12">0.2</text>
<text x="393.05" y="176.06" text-anchor="end" font-size="12">0.3</text>
<text x="393.05" y="153.58" text-anchor="end" font-size="12">0.4</text>
<text x="393.05" y="131.10" text-anchor="end" font-size="12">0.5</text>
<text x="393.05" y="108.62" text-anchor="end" font-size="12">0.6</text>
<text x="393.05" y="86.14" text-anchor="end" font-size="12">0.7</text>
<text x="393.05" y="63.66" text-anchor="end" font-size="12">0.8</text>
<text x="393.05" y="41.18" text-anchor="end" font-size="12">0.9</text>
<text x="393.05" y="18.70" text-anchor="end" font-size="12">1.0</text>
<text x="537.55" y="274.90" text-anchor="middle" font-size="13.8">Sphere diameter (mm)</text>
<text transform="translate(371.10,127.80) rotate(-90)" text-anchor="middle" font-size="14">Recovery coefficient</text>
<text x="353.80" y="12.35" font-size="16.5">(b)</text>
<rect x="414.5" y="30.8" width="59.2" height="85.6" fill="#fff" stroke="#555" stroke-width="1"/>
<rect x="429.45" y="37.75" width="4.3" height="4.3" fill="#000"/>
<text x="450.70" y="44.50" font-size="14.7">P</text>
<text x="459.15" y="49.60" font-size="9" fill="#777">&#8734;</text>
<circle cx="431.60" cy="60.90" r="2.2" fill="#f00"/>
<text x="450.70" y="65.50" font-size="14.7">P</text>
<text x="459.15" y="70.60" font-size="9">9.5</text>
<path d="M431.60,79.40L434.45,84.10L428.75,84.10Z" fill="#0f0"/>
<text x="450.70" y="86.50" font-size="14.7">P</text>
<text x="459.15" y="91.60" font-size="9">5.0</text>
<path d="M431.60,105.40L434.45,100.70L428.75,100.70Z" fill="#00f"/>
<text x="450.70" y="107.50" font-size="14.7">P</text>
<text x="459.15" y="112.60" font-size="9">2.7</text>
<clipPath id="cd"><rect x="397.65" y="302.4" width="279.80" height="224.80"/></clipPath>
<path d="M407.30,526.58 L408.53,526.48 L409.77,526.36 L411.00,526.21 L412.23,526.03 L413.47,525.82 L414.70,525.59 L415.93,525.32 L417.17,525.04 L418.40,524.72 L419.64,524.38 L420.87,524.02 L422.10,523.62 L423.34,523.21 L424.57,522.77 L425.80,522.30 L427.04,521.81 L428.27,521.30 L429.50,520.76 L430.74,520.20 L431.97,519.62 L433.20,519.02 L434.44,518.39 L435.67,517.74 L436.91,517.07 L438.14,516.38 L439.37,515.66 L440.61,514.93 L441.84,514.17 L443.07,513.40 L444.31,512.61 L445.54,511.79 L446.77,510.96 L448.01,510.11 L449.24,509.24 L450.47,508.35 L451.71,507.45 L452.94,506.53 L454.18,505.59 L455.41,504.63 L456.64,503.66 L457.88,502.68 L459.11,501.68 L460.34,500.67 L461.58,499.64 L462.81,498.60 L464.04,497.54 L465.28,496.48 L466.51,495.40 L467.74,494.31 L468.98,493.20 L470.21,492.09 L471.45,490.97 L472.68,489.83 L473.91,488.69 L475.15,487.54 L476.38,486.38 L477.61,485.21 L478.85,484.03 L480.08,482.85 L481.31,481.65 L482.55,480.46 L483.78,479.25 L485.01,478.04 L486.25,476.83 L487.48,475.61 L488.72,474.39 L489.95,473.16 L491.18,471.93 L492.42,470.70 L493.65,469.47 L494.88,468.23 L496.12,467.00 L497.35,465.77 L498.58,464.53 L499.82,463.30 L501.05,462.07 L502.28,460.84 L503.52,459.61 L504.75,458.39 L505.98,457.16 L507.22,455.95 L508.45,454.74 L509.69,453.53 L510.92,452.33 L512.15,451.13 L513.39,449.95 L514.62,448.77 L515.85,447.59 L517.09,446.43 L518.32,445.27 L519.55,444.12 L520.79,442.98 L522.02,441.84 L523.25,440.71 L524.49,439.59 L525.72,438.47 L526.96,437.36 L528.19,436.26 L529.42,435.16 L530.66,434.06 L531.89,432.98 L533.12,431.90 L534.36,430.82 L535.59,429.75 L536.82,428.68 L538.06,427.62 L539.29,426.56 L540.52,425.51 L541.76,424.46 L542.99,423.42 L544.23,422.38 L545.46,421.34 L546.69,420.31 L547.93,419.28 L549.16,418.25 L550.39,417.23 L551.63,416.21 L552.86,415.20 L554.09,414.19 L555.33,413.18 L556.56,412.18 L557.79,411.19 L559.03,410.20 L560.26,409.21 L561.50,408.24 L562.73,407.27 L563.96,406.30 L565.20,405.34 L566.43,404.39 L567.66,403.45 L568.90,402.51 L570.13,401.59 L571.36,400.67 L572.60,399.76 L573.83,398.85 L575.06,397.96 L576.30,397.08 L577.53,396.20 L578.77,395.34 L580.00,394.48 L581.23,393.64 L582.47,392.81 L583.70,391.98 L584.93,391.17 L586.17,390.37 L587.40,389.58 L588.63,388.80 L589.87,388.03 L591.10,387.27 L592.33,386.53 L593.57,385.79 L594.80,385.06 L596.03,384.34 L597.27,383.63 L598.50,382.93 L599.74,382.24 L600.97,381.56 L602.20,380.89 L603.44,380.22 L604.67,379.56 L605.90,378.91 L607.14,378.27 L608.37,377.63 L609.60,377.00 L610.84,376.38 L612.07,375.76 L613.30,375.15 L614.54,374.54 L615.77,373.94 L617.01,373.35 L618.24,372.76 L619.47,372.18 L620.71,371.60 L621.94,371.03 L623.17,370.46 L624.41,369.90 L625.64,369.34 L626.87,368.79 L628.11,368.25 L629.34,367.70 L630.57,367.17 L631.81,366.63 L633.04,366.11 L634.28,365.58 L635.51,365.06 L636.74,364.55 L637.98,364.04 L639.21,363.53 L640.44,363.03 L641.68,362.53 L642.91,362.04 L644.14,361.54 L645.38,361.06 L646.61,360.57 L647.84,360.09 L649.08,359.62 L650.31,359.14 L651.55,358.67 L652.78,358.21 L654.01,357.74 L655.25,357.28 L656.48,356.82 L657.71,356.37 L658.95,355.92 L660.18,355.47 L661.41,355.02 L662.65,354.58 L663.88,354.13 L665.11,353.69 L666.35,353.26 L667.58,352.82 L668.82,352.39 L670.05,351.96 L671.28,351.53 L672.52,351.10 L673.75,350.67 L674.98,350.25 L676.22,349.83 L677.45,349.40" fill="none" stroke="#505050" stroke-width="1" clip-path="url(#cd)"/>
<path d="M467.75,494.30V496.90M465.15,494.30h5.2M465.15,496.90h5.2" stroke="#000" stroke-width="0.9" fill="none"/>
<rect x="465.60" y="493.45" width="4.3" height="4.3" fill="#000"/>
<path d="M488.74,474.70V477.30M486.13,474.70h5.2M486.13,477.30h5.2" stroke="#000" stroke-width="0.9" fill="none"/>
<rect x="486.59" y="473.85" width="4.3" height="4.3" fill="#000"/>
<path d="M516.72,445.00V447.60M514.12,445.00h5.2M514.12,447.60h5.2" stroke="#000" stroke-width="0.9" fill="none"/>
<rect x="514.57" y="444.15" width="4.3" height="4.3" fill="#000"/>
<path d="M551.69,410.00V412.60M549.09,410.00h5.2M549.09,412.60h5.2" stroke="#000" stroke-width="0.9" fill="none"/>
<rect x="549.54" y="409.15" width="4.3" height="4.3" fill="#000"/>
<path d="M593.66,380.10V382.50M591.06,380.10h5.2M591.06,382.50h5.2" stroke="#000" stroke-width="0.9" fill="none"/>
<rect x="591.51" y="379.15" width="4.3" height="4.3" fill="#000"/>
<path d="M656.62,360.30V362.70M654.01,360.30h5.2M654.01,362.70h5.2" stroke="#000" stroke-width="0.9" fill="none"/>
<rect x="654.47" y="359.35" width="4.3" height="4.3" fill="#000"/>
<circle cx="467.75" cy="486.20" r="2.2" fill="#f00"/>
<circle cx="488.74" cy="486.20" r="2.2" fill="#f00"/>
<circle cx="516.72" cy="467.10" r="2.2" fill="#f00"/>
<circle cx="551.69" cy="451.40" r="2.2" fill="#f00"/>
<circle cx="593.66" cy="401.40" r="2.2" fill="#f00"/>
<circle cx="656.62" cy="371.50" r="2.2" fill="#f00"/>
<path d="M467.75,459.60L470.60,464.30L464.90,464.30Z" fill="#0f0"/>
<path d="M488.74,464.90L491.59,469.60L485.88,469.60Z" fill="#0f0"/>
<path d="M516.72,454.60L519.57,459.30L513.87,459.30Z" fill="#0f0"/>
<path d="M551.69,445.60L554.54,450.30L548.84,450.30Z" fill="#0f0"/>
<path d="M593.66,401.80L596.51,406.50L590.81,406.50Z" fill="#0f0"/>
<path d="M656.62,371.60L659.47,376.30L653.76,376.30Z" fill="#0f0"/>
<path d="M467.75,408.90V413.30M465.15,408.90h5.2M465.15,413.30h5.2" stroke="#7c7cff" stroke-width="0.9" fill="none"/>
<path d="M467.75,413.60L470.60,408.90L464.90,408.90Z" fill="#00f"/>
<path d="M488.74,438.30L491.59,433.60L485.88,433.60Z" fill="#00f"/>
<path d="M516.72,429.20L519.57,424.50L513.87,424.50Z" fill="#00f"/>
<path d="M551.69,421.80V430.00M549.09,421.80h5.2M549.09,430.00h5.2" stroke="#7c7cff" stroke-width="0.9" fill="none"/>
<path d="M551.69,428.40L554.54,423.70L548.84,423.70Z" fill="#00f"/>
<path d="M593.66,401.90V407.90M591.06,401.90h5.2M591.06,407.90h5.2" stroke="#7c7cff" stroke-width="0.9" fill="none"/>
<path d="M593.66,407.40L596.51,402.70L590.81,402.70Z" fill="#00f"/>
<path d="M656.62,379.20L659.47,374.50L653.76,374.50Z" fill="#00f"/>
<rect x="397.65" y="302.4" width="279.80" height="224.80" fill="none" stroke="#3c3c3c" stroke-width="1.15"/>
<path d="M397.65,527.2v-4.5M397.65,302.4v4.5M404.64,527.2v-2.4M404.64,302.4v2.4M411.64,527.2v-2.4M411.64,302.4v2.4M418.63,527.2v-2.4M418.63,302.4v2.4M425.63,527.2v-2.4M425.63,302.4v2.4M432.62,527.2v-4.5M432.62,302.4v4.5M439.62,527.2v-2.4M439.62,302.4v2.4M446.62,527.2v-2.4M446.62,302.4v2.4M453.61,527.2v-2.4M453.61,302.4v2.4M460.61,527.2v-2.4M460.61,302.4v2.4M467.60,527.2v-4.5M467.60,302.4v4.5M474.60,527.2v-2.4M474.60,302.4v2.4M481.59,527.2v-2.4M481.59,302.4v2.4M488.59,527.2v-2.4M488.59,302.4v2.4M495.58,527.2v-2.4M495.58,302.4v2.4M502.57,527.2v-4.5M502.57,302.4v4.5M509.57,527.2v-2.4M509.57,302.4v2.4M516.57,527.2v-2.4M516.57,302.4v2.4M523.56,527.2v-2.4M523.56,302.4v2.4M530.56,527.2v-2.4M530.56,302.4v2.4M537.55,527.2v-4.5M537.55,302.4v4.5M544.55,527.2v-2.4M544.55,302.4v2.4M551.54,527.2v-2.4M551.54,302.4v2.4M558.54,527.2v-2.4M558.54,302.4v2.4M565.53,527.2v-2.4M565.53,302.4v2.4M572.53,527.2v-4.5M572.53,302.4v4.5M579.52,527.2v-2.4M579.52,302.4v2.4M586.52,527.2v-2.4M586.52,302.4v2.4M593.51,527.2v-2.4M593.51,302.4v2.4M600.50,527.2v-2.4M600.50,302.4v2.4M607.50,527.2v-4.5M607.50,302.4v4.5M614.50,527.2v-2.4M614.50,302.4v2.4M621.49,527.2v-2.4M621.49,302.4v2.4M628.49,527.2v-2.4M628.49,302.4v2.4M635.48,527.2v-2.4M635.48,302.4v2.4M642.48,527.2v-4.5M642.48,302.4v4.5M649.47,527.2v-2.4M649.47,302.4v2.4M656.47,527.2v-2.4M656.47,302.4v2.4M663.46,527.2v-2.4M663.46,302.4v2.4M670.46,527.2v-2.4M670.46,302.4v2.4M677.45,527.2v-4.5M677.45,302.4v4.5M397.65,527.20h4.5M677.45,527.20h-4.5M397.65,515.96h2.4M677.45,515.96h-2.4M397.65,504.72h4.5M677.45,504.72h-4.5M397.65,493.48h2.4M677.45,493.48h-2.4M397.65,482.24h4.5M677.45,482.24h-4.5M397.65,471.00h2.4M677.45,471.00h-2.4M397.65,459.76h4.5M677.45,459.76h-4.5M397.65,448.52h2.4M677.45,448.52h-2.4M397.65,437.28h4.5M677.45,437.28h-4.5M397.65,426.04h2.4M677.45,426.04h-2.4M397.65,414.80h4.5M677.45,414.80h-4.5M397.65,403.56h2.4M677.45,403.56h-2.4M397.65,392.32h4.5M677.45,392.32h-4.5M397.65,381.08h2.4M677.45,381.08h-2.4M397.65,369.84h4.5M677.45,369.84h-4.5M397.65,358.60h2.4M677.45,358.60h-2.4M397.65,347.36h4.5M677.45,347.36h-4.5M397.65,336.12h2.4M677.45,336.12h-2.4M397.65,324.88h4.5M677.45,324.88h-4.5M397.65,313.64h2.4M677.45,313.64h-2.4M397.65,302.40h4.5M677.45,302.40h-4.5" stroke="#3c3c3c" stroke-width="1.05" fill="none"/>
<text x="397.65" y="540.90" text-anchor="middle" font-size="12">0</text>
<text x="432.62" y="540.90" text-anchor="middle" font-size="12">5</text>
<text x="467.60" y="540.90" text-anchor="middle" font-size="12">10</text>
<text x="502.57" y="540.90" text-anchor="middle" font-size="12">15</text>
<text x="537.55" y="540.90" text-anchor="middle" font-size="12">20</text>
<text x="572.53" y="540.90" text-anchor="middle" font-size="12">25</text>
<text x="607.50" y="540.90" text-anchor="middle" font-size="12">30</text>
<text x="642.48" y="540.90" text-anchor="middle" font-size="12">35</text>
<text x="677.45" y="540.90" text-anchor="middle" font-size="12">40</text>
<text x="393.05" y="530.50" text-anchor="end" font-size="12">0.0</text>
<text x="393.05" y="508.02" text-anchor="end" font-size="12">0.1</text>
<text x="393.05" y="485.54" text-anchor="end" font-size="12">0.2</text>
<text x="393.05" y="463.06" text-anchor="end" font-size="12">0.3</text>
<text x="393.05" y="440.58" text-anchor="end" font-size="12">0.4</text>
<text x="393.05" y="418.10" text-anchor="end" font-size="12">0.5</text>
<text x="393.05" y="395.62" text-anchor="end" font-size="12">0.6</text>
<text x="393.05" y="373.14" text-anchor="end" font-size="12">0.7</text>
<text x="393.05" y="350.66" text-anchor="end" font-size="12">0.8</text>
<text x="393.05" y="328.18" text-anchor="end" font-size="12">0.9</text>
<text x="393.05" y="305.70" text-anchor="end" font-size="12">1.0</text>
<text x="537.55" y="561.90" text-anchor="middle" font-size="13.8">Sphere diameter (mm)</text>
<text transform="translate(371.10,414.80) rotate(-90)" text-anchor="middle" font-size="14">Recovery coefficient</text>
<text x="353.80" y="300.00" font-size="16.5">(d)</text>
<rect x="414.7" y="316.7" width="59.0" height="85.6" fill="#fff" stroke="#555" stroke-width="1"/>
<rect x="429.55" y="323.65" width="4.3" height="4.3" fill="#000"/>
<text x="450.70" y="330.40" font-size="14.7">P</text>
<text x="459.15" y="335.50" font-size="9" fill="#777">&#8734;</text>
<circle cx="431.70" cy="346.80" r="2.2" fill="#f00"/>
<text x="450.70" y="351.40" font-size="14.7">P</text>
<text x="459.15" y="356.50" font-size="9">9.5</text>
<path d="M431.70,365.30L434.55,370.00L428.85,370.00Z" fill="#0f0"/>
<text x="450.70" y="372.40" font-size="14.7">P</text>
<text x="459.15" y="377.50" font-size="9">5.0</text>
<path d="M431.70,391.30L434.55,386.60L428.85,386.60Z" fill="#00f"/>
<text x="450.70" y="393.40" font-size="14.7">P</text>
<text x="459.15" y="398.50" font-size="9">2.7</text>
<clipPath id="cf"><rect x="397.65" y="588.6" width="279.80" height="224.80"/></clipPath>
<path d="M404.30,813.17 L405.55,812.74 L406.79,812.28 L408.04,811.79 L409.29,811.27 L410.54,810.72 L411.78,810.14 L413.03,809.53 L414.28,808.90 L415.53,808.24 L416.77,807.56 L418.02,806.85 L419.27,806.12 L420.51,805.37 L421.76,804.60 L423.01,803.81 L424.26,803.00 L425.50,802.17 L426.75,801.33 L428.00,800.47 L429.25,799.59 L430.49,798.70 L431.74,797.80 L432.99,796.89 L434.23,795.96 L435.48,795.03 L436.73,794.08 L437.98,793.13 L439.22,792.17 L440.47,791.21 L441.72,790.24 L442.97,789.27 L444.21,788.29 L445.46,787.31 L446.71,786.33 L447.95,785.34 L449.20,784.35 L450.45,783.36 L451.70,782.37 L452.94,781.38 L454.19,780.39 L455.44,779.39 L456.68,778.40 L457.93,777.41 L459.18,776.41 L460.43,775.42 L461.67,774.43 L462.92,773.44 L464.17,772.45 L465.42,771.47 L466.66,770.48 L467.91,769.51 L469.16,768.53 L470.40,767.56 L471.65,766.59 L472.90,765.62 L474.15,764.66 L475.39,763.70 L476.64,762.75 L477.89,761.81 L479.14,760.86 L480.38,759.92 L481.63,758.99 L482.88,758.06 L484.12,757.14 L485.37,756.22 L486.62,755.30 L487.87,754.39 L489.11,753.49 L490.36,752.59 L491.61,751.69 L492.86,750.80 L494.10,749.91 L495.35,749.03 L496.60,748.16 L497.84,747.29 L499.09,746.42 L500.34,745.56 L501.59,744.70 L502.83,743.85 L504.08,743.01 L505.33,742.17 L506.58,741.33 L507.82,740.50 L509.07,739.68 L510.32,738.86 L511.56,738.04 L512.81,737.23 L514.06,736.43 L515.31,735.63 L516.55,734.84 L517.80,734.06 L519.05,733.27 L520.30,732.50 L521.54,731.73 L522.79,730.96 L524.04,730.21 L525.28,729.45 L526.53,728.70 L527.78,727.96 L529.03,727.23 L530.27,726.50 L531.52,725.77 L532.77,725.06 L534.02,724.34 L535.26,723.64 L536.51,722.94 L537.76,722.24 L539.00,721.56 L540.25,720.87 L541.50,720.20 L542.75,719.53 L543.99,718.86 L545.24,718.21 L546.49,717.56 L547.73,716.91 L548.98,716.27 L550.23,715.64 L551.48,715.01 L552.72,714.39 L553.97,713.77 L555.22,713.16 L556.47,712.55 L557.71,711.95 L558.96,711.36 L560.21,710.77 L561.45,710.19 L562.70,709.61 L563.95,709.04 L565.20,708.47 L566.44,707.91 L567.69,707.36 L568.94,706.80 L570.19,706.26 L571.43,705.72 L572.68,705.18 L573.93,704.65 L575.17,704.13 L576.42,703.60 L577.67,703.09 L578.92,702.58 L580.16,702.07 L581.41,701.57 L582.66,701.07 L583.91,700.58 L585.15,700.09 L586.40,699.61 L587.65,699.13 L588.89,698.66 L590.14,698.19 L591.39,697.72 L592.64,697.26 L593.88,696.80 L595.13,696.35 L596.38,695.90 L597.63,695.46 L598.87,695.02 L600.12,694.58 L601.37,694.15 L602.61,693.72 L603.86,693.30 L605.11,692.88 L606.36,692.46 L607.60,692.05 L608.85,691.64 L610.10,691.24 L611.35,690.84 L612.59,690.44 L613.84,690.04 L615.09,689.65 L616.33,689.27 L617.58,688.88 L618.83,688.50 L620.08,688.13 L621.32,687.75 L622.57,687.38 L623.82,687.01 L625.07,686.65 L626.31,686.29 L627.56,685.93 L628.81,685.58 L630.05,685.22 L631.30,684.87 L632.55,684.53 L633.80,684.19 L635.04,683.84 L636.29,683.51 L637.54,683.17 L638.78,682.84 L640.03,682.51 L641.28,682.18 L642.53,681.86 L643.77,681.54 L645.02,681.22 L646.27,680.90 L647.52,680.58 L648.76,680.27 L650.01,679.96 L651.26,679.65 L652.50,679.35 L653.75,679.04 L655.00,678.74 L656.25,678.44 L657.49,678.14 L658.74,677.85 L659.99,677.55 L661.24,677.26 L662.48,676.97 L663.73,676.68 L664.98,676.39 L666.22,676.11 L667.47,675.82 L668.72,675.54 L669.97,675.26 L671.21,674.98 L672.46,674.70 L673.71,674.43 L674.96,674.15 L676.20,673.88 L677.45,673.61" fill="none" stroke="#505050" stroke-width="1" clip-path="url(#cf)"/>
<path d="M467.75,763.50V767.10M465.15,763.50h5.2M465.15,767.10h5.2" stroke="#000" stroke-width="0.9" fill="none"/>
<rect x="465.60" y="763.15" width="4.3" height="4.3" fill="#000"/>
<path d="M488.74,751.00V754.00M486.13,751.00h5.2M486.13,754.00h5.2" stroke="#000" stroke-width="0.9" fill="none"/>
<rect x="486.59" y="750.35" width="4.3" height="4.3" fill="#000"/>
<path d="M516.72,735.50V742.50M514.12,735.50h5.2M514.12,742.50h5.2" stroke="#000" stroke-width="0.9" fill="none"/>
<rect x="514.57" y="736.85" width="4.3" height="4.3" fill="#000"/>
<path d="M551.69,714.80V717.20M549.09,714.80h5.2M549.09,717.20h5.2" stroke="#000" stroke-width="0.9" fill="none"/>
<rect x="549.54" y="713.85" width="4.3" height="4.3" fill="#000"/>
<path d="M593.66,696.40V698.80M591.06,696.40h5.2M591.06,698.80h5.2" stroke="#000" stroke-width="0.9" fill="none"/>
<rect x="591.51" y="695.45" width="4.3" height="4.3" fill="#000"/>
<path d="M656.62,677.90V679.90M654.01,677.90h5.2M654.01,679.90h5.2" stroke="#000" stroke-width="0.9" fill="none"/>
<rect x="654.47" y="676.75" width="4.3" height="4.3" fill="#000"/>
<circle cx="467.75" cy="778.00" r="2.2" fill="#f00"/>
<circle cx="488.74" cy="766.50" r="2.2" fill="#f00"/>
<circle cx="516.72" cy="721.30" r="2.2" fill="#f00"/>
<circle cx="551.69" cy="707.80" r="2.2" fill="#f00"/>
<circle cx="593.66" cy="676.80" r="2.2" fill="#f00"/>
<circle cx="656.62" cy="659.70" r="2.2" fill="#f00"/>
<path d="M467.75,757.00L470.60,761.70L464.90,761.70Z" fill="#0f0"/>
<path d="M488.74,746.50L491.59,751.20L485.88,751.20Z" fill="#0f0"/>
<path d="M516.72,723.70L519.57,728.40L513.87,728.40Z" fill="#0f0"/>
<path d="M551.69,686.40L554.54,691.10L548.84,691.10Z" fill="#0f0"/>
<path d="M593.66,657.80L596.51,662.50L590.81,662.50Z" fill="#0f0"/>
<path d="M656.62,637.10L659.47,641.80L653.76,641.80Z" fill="#0f0"/>
<path d="M467.75,698.10V714.70M465.15,698.10h5.2M465.15,714.70h5.2" stroke="#7c7cff" stroke-width="0.9" fill="none"/>
<path d="M467.75,708.90L470.60,704.20L464.90,704.20Z" fill="#00f"/>
<path d="M488.74,716.90V729.70M486.13,716.90h5.2M486.13,729.70h5.2" stroke="#7c7cff" stroke-width="0.9" fill="none"/>
<path d="M488.74,725.80L491.59,721.10L485.88,721.10Z" fill="#00f"/>
<path d="M516.72,690.30V700.30M514.12,690.30h5.2M514.12,700.30h5.2" stroke="#7c7cff" stroke-width="0.9" fill="none"/>
<path d="M516.72,697.80L519.57,693.10L513.87,693.10Z" fill="#00f"/>
<path d="M551.69,670.60V676.80M549.09,670.60h5.2M549.09,676.80h5.2" stroke="#7c7cff" stroke-width="0.9" fill="none"/>
<path d="M551.69,676.20L554.54,671.50L548.84,671.50Z" fill="#00f"/>
<path d="M593.66,624.10V653.30M591.06,624.10h5.2M591.06,653.30h5.2" stroke="#7c7cff" stroke-width="0.9" fill="none"/>
<path d="M593.66,641.20L596.51,636.50L590.81,636.50Z" fill="#00f"/>
<path d="M656.62,596.30V625.70M654.01,596.30h5.2M654.01,625.70h5.2" stroke="#7c7cff" stroke-width="0.9" fill="none"/>
<path d="M656.62,613.50L659.47,608.80L653.76,608.80Z" fill="#00f"/>
<rect x="397.65" y="588.6" width="279.80" height="224.80" fill="none" stroke="#3c3c3c" stroke-width="1.15"/>
<path d="M397.65,813.4v-4.5M397.65,588.6v4.5M404.64,813.4v-2.4M404.64,588.6v2.4M411.64,813.4v-2.4M411.64,588.6v2.4M418.63,813.4v-2.4M418.63,588.6v2.4M425.63,813.4v-2.4M425.63,588.6v2.4M432.62,813.4v-4.5M432.62,588.6v4.5M439.62,813.4v-2.4M439.62,588.6v2.4M446.62,813.4v-2.4M446.62,588.6v2.4M453.61,813.4v-2.4M453.61,588.6v2.4M460.61,813.4v-2.4M460.61,588.6v2.4M467.60,813.4v-4.5M467.60,588.6v4.5M474.60,813.4v-2.4M474.60,588.6v2.4M481.59,813.4v-2.4M481.59,588.6v2.4M488.59,813.4v-2.4M488.59,588.6v2.4M495.58,813.4v-2.4M495.58,588.6v2.4M502.57,813.4v-4.5M502.57,588.6v4.5M509.57,813.4v-2.4M509.57,588.6v2.4M516.57,813.4v-2.4M516.57,588.6v2.4M523.56,813.4v-2.4M523.56,588.6v2.4M530.56,813.4v-2.4M530.56,588.6v2.4M537.55,813.4v-4.5M537.55,588.6v4.5M544.55,813.4v-2.4M544.55,588.6v2.4M551.54,813.4v-2.4M551.54,588.6v2.4M558.54,813.4v-2.4M558.54,588.6v2.4M565.53,813.4v-2.4M565.53,588.6v2.4M572.53,813.4v-4.5M572.53,588.6v4.5M579.52,813.4v-2.4M579.52,588.6v2.4M586.52,813.4v-2.4M586.52,588.6v2.4M593.51,813.4v-2.4M593.51,588.6v2.4M600.50,813.4v-2.4M600.50,588.6v2.4M607.50,813.4v-4.5M607.50,588.6v4.5M614.50,813.4v-2.4M614.50,588.6v2.4M621.49,813.4v-2.4M621.49,588.6v2.4M628.49,813.4v-2.4M628.49,588.6v2.4M635.48,813.4v-2.4M635.48,588.6v2.4M642.48,813.4v-4.5M642.48,588.6v4.5M649.47,813.4v-2.4M649.47,588.6v2.4M656.47,813.4v-2.4M656.47,588.6v2.4M663.46,813.4v-2.4M663.46,588.6v2.4M670.46,813.4v-2.4M670.46,588.6v2.4M677.45,813.4v-4.5M677.45,588.6v4.5M397.65,813.40h4.5M677.45,813.40h-4.5M397.65,804.03h2.4M677.45,804.03h-2.4M397.65,794.67h4.5M677.45,794.67h-4.5M397.65,785.30h2.4M677.45,785.30h-2.4M397.65,775.93h4.5M677.45,775.93h-4.5M397.65,766.57h2.4M677.45,766.57h-2.4M397.65,757.20h4.5M677.45,757.20h-4.5M397.65,747.83h2.4M677.45,747.83h-2.4M397.65,738.47h4.5M677.45,738.47h-4.5M397.65,729.10h2.4M677.45,729.10h-2.4M397.65,719.73h4.5M677.45,719.73h-4.5M397.65,710.37h2.4M677.45,710.37h-2.4M397.65,701.00h4.5M677.45,701.00h-4.5M397.65,691.63h2.4M677.45,691.63h-2.4M397.65,682.27h4.5M677.45,682.27h-4.5M397.65,672.90h2.4M677.45,672.90h-2.4M397.65,663.53h4.5M677.45,663.53h-4.5M397.65,654.17h2.4M677.45,654.17h-2.4M397.65,644.80h4.5M677.45,644.80h-4.5M397.65,635.43h2.4M677.45,635.43h-2.4M397.65,626.07h4.5M677.45,626.07h-4.5M397.65,616.70h2.4M677.45,616.70h-2.4M397.65,607.33h4.5M677.45,607.33h-4.5M397.65,597.97h2.4M677.45,597.97h-2.4M397.65,588.60h4.5M677.45,588.60h-4.5" stroke="#3c3c3c" stroke-width="1.05" fill="none"/>
<text x="397.65" y="828.00" text-anchor="middle" font-size="12">0</text>
<text x="432.62" y="828.00" text-anchor="middle" font-size="12">5</text>
<text x="467.60" y="828.00" text-anchor="middle" font-size="12">10</text>
<text x="502.57" y="828.00" text-anchor="middle" font-size="12">15</text>
<text x="537.55" y="828.00" text-anchor="middle" font-size="12">20</text>
<text x="572.53" y="828.00" text-anchor="middle" font-size="12">25</text>
<text x="607.50" y="828.00" text-anchor="middle" font-size="12">30</text>
<text x="642.48" y="828.00" text-anchor="middle" font-size="12">35</text>
<text x="677.45" y="828.00" text-anchor="middle" font-size="12">40</text>
<text x="393.05" y="816.70" text-anchor="end" font-size="12">0.0</text>
<text x="393.05" y="797.97" text-anchor="end" font-size="12">0.1</text>
<text x="393.05" y="779.23" text-anchor="end" font-size="12">0.2</text>
<text x="393.05" y="760.50" text-anchor="end" font-size="12">0.3</text>
<text x="393.05" y="741.77" text-anchor="end" font-size="12">0.4</text>
<text x="393.05" y="723.03" text-anchor="end" font-size="12">0.5</text>
<text x="393.05" y="704.30" text-anchor="end" font-size="12">0.6</text>
<text x="393.05" y="685.57" text-anchor="end" font-size="12">0.7</text>
<text x="393.05" y="666.83" text-anchor="end" font-size="12">0.8</text>
<text x="393.05" y="648.10" text-anchor="end" font-size="12">0.9</text>
<text x="393.05" y="629.37" text-anchor="end" font-size="12">1.0</text>
<text x="393.05" y="610.63" text-anchor="end" font-size="12">1.1</text>
<text x="393.05" y="591.90" text-anchor="end" font-size="12">1.2</text>
<text x="537.55" y="848.60" text-anchor="middle" font-size="13.8">Sphere diameter (mm)</text>
<text transform="translate(371.10,701.00) rotate(-90)" text-anchor="middle" font-size="14">Recovery coefficient</text>
<text x="353.80" y="588.10" font-size="16.5">(f)</text>
<rect x="413.5" y="601.5" width="58.2" height="85.6" fill="#fff" stroke="#555" stroke-width="1"/>
<rect x="427.75" y="608.45" width="4.3" height="4.3" fill="#000"/>
<text x="448.70" y="615.20" font-size="14.7">P</text>
<text x="457.15" y="620.30" font-size="9" fill="#777">&#8734;</text>
<circle cx="429.90" cy="631.60" r="2.2" fill="#f00"/>
<text x="448.70" y="636.20" font-size="14.7">P</text>
<text x="457.15" y="641.30" font-size="9">9.5</text>
<path d="M429.90,650.10L432.75,654.80L427.05,654.80Z" fill="#0f0"/>
<text x="448.70" y="657.20" font-size="14.7">P</text>
<text x="457.15" y="662.30" font-size="9">5.0</text>
<path d="M429.90,676.10L432.75,671.40L427.05,671.40Z" fill="#00f"/>
<text x="448.70" y="678.20" font-size="14.7">P</text>
<text x="457.15" y="683.30" font-size="9">2.7</text>
</svg></body></html>
